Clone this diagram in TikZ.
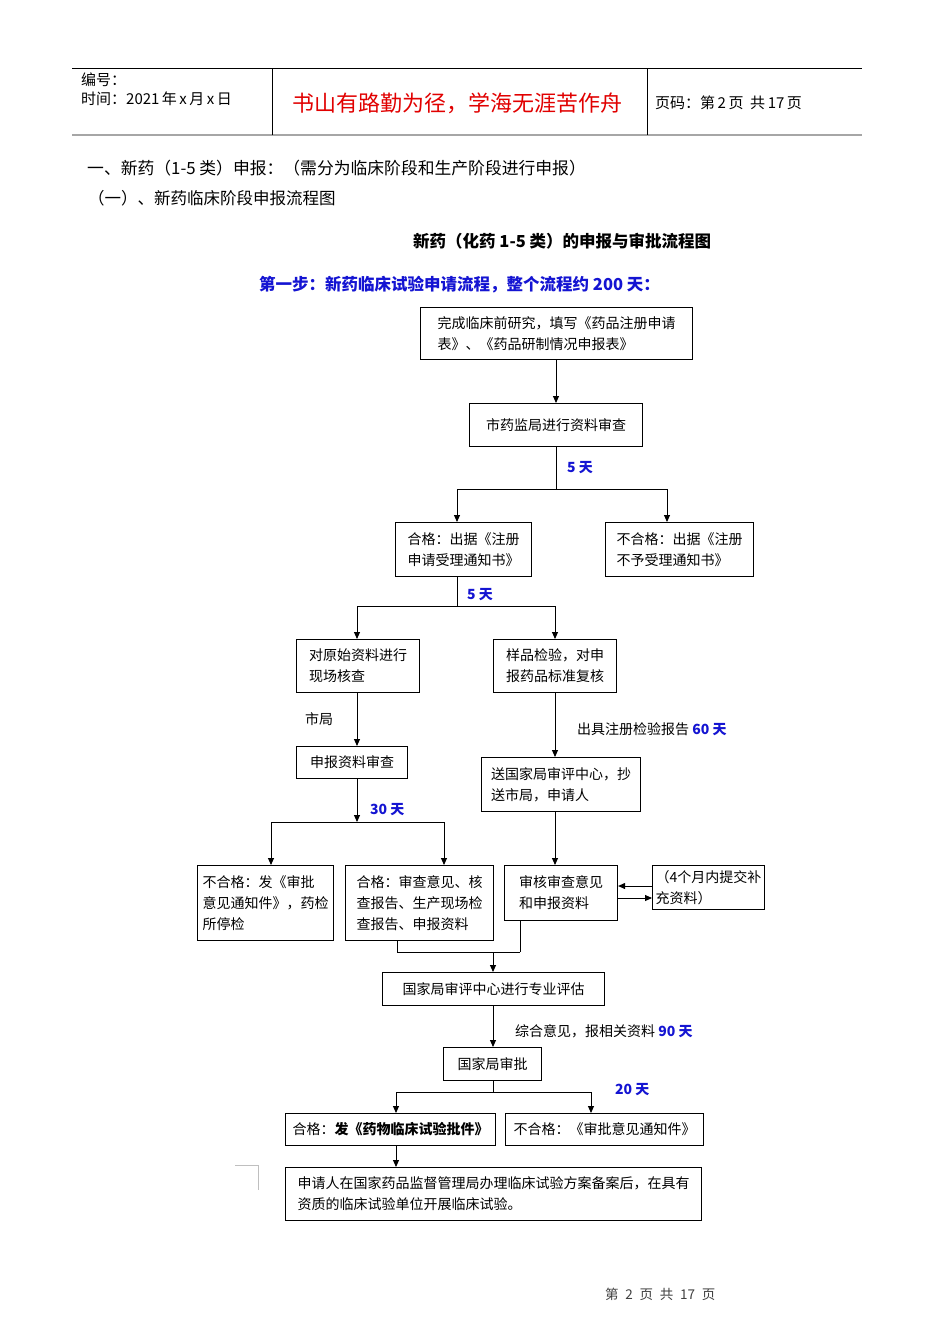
\documentclass[tikz,border=0pt]{standalone}
\usepackage{fontspec}
\setmainfont{Noto Sans CJK SC}
\usetikzlibrary{arrows.meta}
\definecolor{dayblue}{RGB}{20,20,210}
\definecolor{hdrred}{RGB}{225,0,0}
\newcommand\daytxt[1]{{\color{dayblue}\bfseries #1}}
\begin{document}
\begin{tikzpicture}[x=1pt,y=-1pt,
 box/.style={draw, line width=1.1pt, anchor=north west, align=left, inner sep=0pt, font=\fontsize{14}{21}\selectfont},
 arr/.style={line width=0.9pt, -{Triangle[length=7pt,width=6pt]}},
 ln/.style={line width=0.9pt},
 lbl/.style={anchor=west, inner sep=0pt, font=\fontsize{14}{17}\selectfont},
 txt/.style={anchor=west, inner sep=0pt}
]
\fill[white] (0,0) rectangle (950,1344);
\useasboundingbox (0,0) rectangle (950,1344);
% header
\draw[line width=0.8pt] (72,68) -- (862,68);
\draw[line width=1.8pt, gray!70] (72,135) -- (862,135);
\draw[line width=0.8pt] (272,68) -- (272,135);
\draw[line width=0.8pt] (647,68) -- (647,135);
\node[txt, font=\fontsize{15}{17}\selectfont] (h1) at (81,80) {编号：};
\node[txt, font=\fontsize{15}{17}\selectfont] (h2) at (81,99) {时间：2021\,年\,x\,月\,x\,日};
\node[txt, font=\fontsize{22}{26}\selectfont, text=hdrred] (h3) at (292,103) {书山有路勤为径，学海无涯苦作舟};
\node[txt, font=\fontsize{15}{17}\selectfont] (h4) at (655,103) {页码：第\,2\,页\ \ 共\,17\,页};
% headings
\node[txt, font=\fontsize{16.8}{19}\selectfont] (s1) at (87,168) {一、新药（1-5 类）申报：（需分为临床阶段和生产阶段进行申报）};
\node[txt, font=\fontsize{16.5}{19}\selectfont] (s2) at (88,198) {（一）、新药临床阶段申报流程图};
\node[txt, font=\fontsize{16.5}{19}\selectfont\bfseries] (t1) at (413,241) {新药（化药 1-5 类）的申报与审批流程图};
\node[txt, font=\fontsize{16.5}{19}\selectfont\bfseries, text=dayblue] (t2) at (259,285) {第一步：新药临床试验申请流程，整个流程约 200 天：};
% boxes
\node[box, minimum width=272pt, minimum height=52pt] (b1) at (420,307) {完成临床前研究，填写《药品注册申请\\表》、《药品研制情况申报表》};
\node[box, minimum width=173pt, minimum height=43pt] (b2) at (469,403) {市药监局进行资料审查};
\node[box, minimum width=136pt, minimum height=54pt] (b3) at (395,522) {合格：出据《注册\\申请受理通知书》};
\node[box, minimum width=148pt, minimum height=54pt] (b4) at (605,522) {不合格：出据《注册\\不予受理通知书》};
\node[box, minimum width=123pt, minimum height=53pt] (b5) at (296,639) {对原始资料进行\\现场核查};
\node[box, minimum width=123pt, minimum height=53pt] (b6) at (493,639) {样品检验，对申\\报药品标准复核};
\node[box, minimum width=111pt, minimum height=32pt] (b7) at (296,746) {申报资料审查};
\node[box, minimum width=159pt, minimum height=54pt] (b8) at (481,757) {送国家局审评中心，抄\\送市局，申请人};
\node[box, minimum width=136pt, minimum height=75pt] (b9) at (197,865) {不合格：发《审批\\意见通知件》，药检\\所停检};
\node[box, minimum width=148pt, minimum height=75pt] (b10) at (345,865) {合格：审查意见、核\\查报告、生产现场检\\查报告、申报资料};
\node[box, minimum width=113pt, minimum height=55pt] (b11) at (504,865) {审核审查意见\\和申报资料};
\node[box, minimum width=112pt, minimum height=44pt] (b12) at (652,865) {（4个月内提交补\\充资料）};
\node[box, minimum width=222pt, minimum height=33pt] (b13) at (382,972) {国家局审评中心进行专业评估};
\node[box, minimum width=98pt, minimum height=33pt] (b14) at (443,1047) {国家局审批};
\node[box, minimum width=210pt, minimum height=32pt] (b15) at (285,1113) {合格：{\bfseries 发《药物临床试验批件》}};
\node[box, minimum width=198pt, minimum height=32pt] (b16) at (505,1113) {不合格：《审批意见通知件》};
\node[box, minimum width=416pt, minimum height=53pt] (b17) at (285,1167) {申请人在国家药品监督管理局办理临床试验方案备案后，在具有\\资质的临床试验单位开展临床试验。};
% junction coordinates
\coordinate (j1a) at (457,489); \coordinate (j1b) at (667,489);
\coordinate (j2a) at (357,606); \coordinate (j2b) at (555,606);
\coordinate (j3) at (357,822); \coordinate (j3a) at (271,822); \coordinate (j3b) at (444,822);
\coordinate (j4a) at (397,952); \coordinate (j4b) at (520,952); \coordinate (j4) at (493,952);
\coordinate (j5a) at (396,1092); \coordinate (j5b) at (591,1092);
% connectors
\draw[arr] (b1.south -| 556,0) -- (b2.north -| 556,0);
\draw[ln] (b2.south -| 556,0) -- (556,489);
\draw[ln] (j1a) -- (j1b);
\draw[arr] (j1a) -- (j1a |- b3.north);
\draw[arr] (j1b) -- (j1b |- b4.north);
\draw[ln] (b3.south -| j1a) -- (j1a |- j2a);
\draw[ln] (j2a) -- (j2b);
\draw[arr] (j2a) -- (j2a |- b5.north);
\draw[arr] (j2b) -- (j2b |- b6.north);
\draw[arr] (b5.south -| j2a) -- (j2a |- b7.north);
\draw[arr] (b6.south -| j2b) -- (j2b |- b8.north);
\draw[arr] (b7.south -| j3) -- (j3);
\draw[ln] (j3a) -- (j3b);
\draw[arr] (j3a) -- (j3a |- b9.north);
\draw[arr] (j3b) -- (j3b |- b10.north);
\draw[arr] (b8.south -| j2b) -- (j2b |- b11.north);
\draw[arr] (b12.west |- 0,886) -- (b11.east |- 0,886);
\draw[arr] (b11.east |- 0,898) -- (b12.west |- 0,898);
\draw[ln] (b10.south -| j4a) -- (j4a);
\draw[ln] (b11.south -| j4b) -- (j4b);
\draw[ln] (j4a) -- (j4b);
\draw[arr] (j4) -- (j4 |- b13.north);
\draw[arr] (b13.south -| j4) -- (j4 |- b14.north);
\draw[ln] (b14.south -| j4) -- (j4 |- j5a);
\draw[ln] (j5a) -- (j5b);
\draw[arr] (j5a) -- (j5a |- b15.north);
\draw[arr] (j5b) -- (j5b |- b16.north);
\draw[arr] (b15.south -| j5a) -- (j5a |- b17.north);
% labels
\node[lbl] (l1) at (567,468) {\daytxt{5 天}};
\node[lbl] (l2) at (467,595) {\daytxt{5 天}};
\node[lbl] (l3) at (305,719) {市局};
\node[lbl] (l4) at (577,729) {出具注册检验报告 \daytxt{60 天}};
\node[lbl] (l5) at (370,810) {\daytxt{30 天}};
\node[lbl] (l6) at (515,1031) {综合意见，报相关资料 \daytxt{90 天}};
\node[lbl] (l7) at (615,1090) {\daytxt{20 天}};
% corner mark
\draw[line width=1pt, gray!50] (235,1165) -- (258,1165) -- (258,1190);
% footer
\node[txt, font=\fontsize{13.5}{16}\selectfont, text=black!75] (f1) at (605,1294) {第\enspace 2\enspace 页\enspace 共\enspace 17\enspace 页};
\end{tikzpicture}
\end{document}
